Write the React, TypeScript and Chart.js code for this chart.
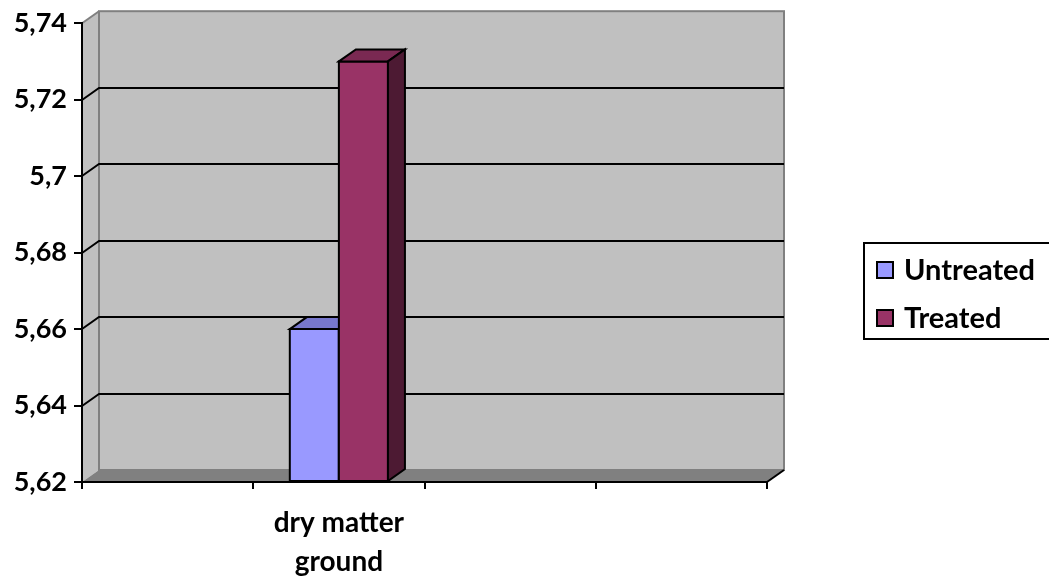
import React, { useEffect, useRef } from "react";
import { Chart, registerables } from "chart.js";

Chart.register(...registerables);

// Category slots on the x axis; only the second one carries data.
const categories: (string | string[])[] = ["", ["dry matter", "ground"], "", ""];
const seriesNames = ["Untreated", "Treated"];
const untreatedValues = [null, 5.66, null, null];
const treatedValues = [null, 5.73, null, null];
const yTickValues = [5.62, 5.64, 5.66, 5.68, 5.7, 5.72, 5.74];

// Styling
const FRONT_COLORS = ["#9999FF", "#993366"];
const TOP_COLORS = ["#7777CC", "#7A2952"];
const SIDE_COLORS = ["#4D4D80", "#4D1A33"];
const WALL = "#C0C0C0";
const FLOOR = "#808080";
const EDGE = "#808080";
const DX = 17; // depth offset to the right
const DY = 12; // depth offset upward
const FONT = "Lato, 'Open Sans', sans-serif";

const fmt = (v: number) => String(Number(v.toFixed(2))).replace(".", ",");

const wallsPlugin = {
  id: "walls3d",
  beforeDraw(chart: any) {
    const { ctx, chartArea, scales } = chart;
    const { left, right, top, bottom } = chartArea;
    const y = scales.y;
    ctx.save();
    // side wall
    ctx.fillStyle = WALL;
    ctx.beginPath();
    ctx.moveTo(left, top);
    ctx.lineTo(left + DX, top - DY);
    ctx.lineTo(left + DX, bottom - DY);
    ctx.lineTo(left, bottom);
    ctx.closePath();
    ctx.fill();
    // back wall
    ctx.fillRect(left + DX, top - DY, right - left, bottom - top);
    // floor
    ctx.fillStyle = FLOOR;
    ctx.beginPath();
    ctx.moveTo(left, bottom);
    ctx.lineTo(left + DX, bottom - DY);
    ctx.lineTo(right + DX, bottom - DY);
    ctx.lineTo(right, bottom);
    ctx.closePath();
    ctx.fill();
    // wall edges
    ctx.strokeStyle = EDGE;
    ctx.lineWidth = 2;
    ctx.strokeRect(left + DX, top - DY, right - left, bottom - top);
    ctx.beginPath();
    ctx.moveTo(left, top);
    ctx.lineTo(left + DX, top - DY);
    ctx.stroke();
    // gridlines across side wall and back wall
    ctx.strokeStyle = "#000000";
    ctx.lineWidth = 2;
    const vals = yTickValues.slice(1, -1);
    for (const v of vals) {
      const py = Math.round(y.getPixelForValue(v));
      ctx.beginPath();
      ctx.moveTo(left, py);
      ctx.lineTo(left + DX, py - DY);
      ctx.lineTo(right + DX, py - DY);
      ctx.stroke();
    }
    ctx.restore();
  },
  afterDraw(chart: any) {
    const { ctx, chartArea } = chart;
    const { right, bottom } = chartArea;
    ctx.save();
    ctx.strokeStyle = "#000000";
    ctx.lineWidth = 2;
    ctx.beginPath();
    ctx.moveTo(right, bottom);
    ctx.lineTo(right + DX, bottom - DY);
    ctx.stroke();
    ctx.restore();
  },
};

const barsPlugin = {
  id: "bars3d",
  afterDatasetsDraw(chart: any) {
    const { ctx, chartArea } = chart;
    ctx.save();
    ctx.strokeStyle = "#000000";
    ctx.lineWidth = 2;
    ctx.lineJoin = "miter";
    chart.data.datasets.forEach((ds: any, i: number) => {
      const meta = chart.getDatasetMeta(i);
      meta.data.forEach((el: any, j: number) => {
        if (ds.data[j] == null) return;
        const p = el.getProps(["x", "y", "base", "width"], true);
        const x = p.x;
        const y = p.y;
        const width = p.width;
        const base = Math.min(p.base, chartArea.bottom);
        const l = x - width / 2;
        const r = x + width / 2;
        // front face
        ctx.fillStyle = FRONT_COLORS[i];
        ctx.beginPath();
        ctx.rect(l, y, r - l, base - y);
        ctx.fill();
        ctx.stroke();
        // top face
        ctx.fillStyle = TOP_COLORS[i];
        ctx.beginPath();
        ctx.moveTo(l, y);
        ctx.lineTo(l + DX, y - DY);
        ctx.lineTo(r + DX, y - DY);
        ctx.lineTo(r, y);
        ctx.closePath();
        ctx.fill();
        ctx.stroke();
        // side face
        ctx.fillStyle = SIDE_COLORS[i];
        ctx.beginPath();
        ctx.moveTo(r, y);
        ctx.lineTo(r + DX, y - DY);
        ctx.lineTo(r + DX, base - DY);
        ctx.lineTo(r, base);
        ctx.closePath();
        ctx.fill();
        ctx.stroke();
      });
    });
    ctx.restore();
  },
};

const legendPlugin = {
  id: "boxLegend",
  afterDraw(chart: any) {
    const { ctx } = chart;
    const boxX = 864;
    const boxY = 243;
    const boxW = 190;
    const boxH = 96;
    ctx.save();
    ctx.strokeStyle = "#000000";
    ctx.lineWidth = 2;
    ctx.strokeRect(boxX, boxY, boxW, boxH);
    ctx.font = `bold 29px ${FONT}`;
    ctx.textBaseline = "middle";
    ctx.textAlign = "left";
    chart.data.datasets.forEach((ds: any, i: number) => {
      const cy = 270 + i * 48;
      ctx.fillStyle = ds.backgroundColor;
      ctx.fillRect(877, cy - 8, 16, 16);
      ctx.strokeRect(877, cy - 8, 16, 16);
      ctx.fillStyle = "#000000";
      ctx.fillText(ds.label, 904, cy + 1);
    });
    ctx.restore();
  },
};

export default function App() {
  const canvasRef = useRef<HTMLCanvasElement | null>(null);

  useEffect(() => {
    if (!canvasRef.current) return;
    const chart = new Chart(canvasRef.current, {
      type: "bar",
      data: {
        labels: categories,
        datasets: [
          {
            label: seriesNames[0],
            data: untreatedValues,
            backgroundColor: FRONT_COLORS[0],
            borderColor: "#000000",
            borderWidth: 2,
            base: yTickValues[0],
            categoryPercentage: 0.573,
            barPercentage: 1,
          },
          {
            label: seriesNames[1],
            data: treatedValues,
            backgroundColor: FRONT_COLORS[1],
            borderColor: "#000000",
            borderWidth: 2,
            base: yTickValues[0],
            categoryPercentage: 0.573,
            barPercentage: 1,
          },
        ],
      },
      options: {
        animation: false,
        responsive: false,
        layout: { padding: { top: 22, right: 282, left: 0, bottom: 0 } },
        plugins: {
          legend: { display: false },
          tooltip: { enabled: false },
        },
        scales: {
          x: {
            grid: {
              offset: true,
              drawOnChartArea: false,
              drawTicks: true,
              tickLength: 7,
              color: "#000000",
              lineWidth: 2,
            },
            border: { display: true, color: "#000000", width: 2 },
            ticks: {
              color: "#000000",
              maxRotation: 0,
              autoSkip: false,
              padding: 14,
              font: { family: FONT, size: 28, weight: "bold", lineHeight: 1.4 },
            },
            afterFit(scale: any) {
              scale.height = 98;
            },
          },
          y: {
            min: yTickValues[0],
            max: yTickValues[yTickValues.length - 1],
            grid: {
              drawOnChartArea: false,
              drawTicks: true,
              tickLength: 8,
              color: "#000000",
              lineWidth: 2,
            },
            border: { display: true, color: "#000000", width: 2 },
            ticks: {
              color: "#000000",
              padding: 7,
              font: { family: FONT, size: 27, weight: "bold" },
              callback: (v: any) => fmt(Number(v)),
            },
            afterBuildTicks(scale: any) {
              scale.ticks = yTickValues.map((v) => ({ value: v }));
            },
            afterFit(scale: any) {
              scale.width = 82;
            },
          },
        },
      },
      plugins: [wallsPlugin, barsPlugin, legendPlugin],
    });
    return () => chart.destroy();
  }, []);

  return (
    <div style={{ position: "fixed", left: 0, top: 0, width: 1049, height: 580, background: "#FFFFFF" }}>
      <canvas ref={canvasRef} width={1049} height={580} />
    </div>
  );
}
